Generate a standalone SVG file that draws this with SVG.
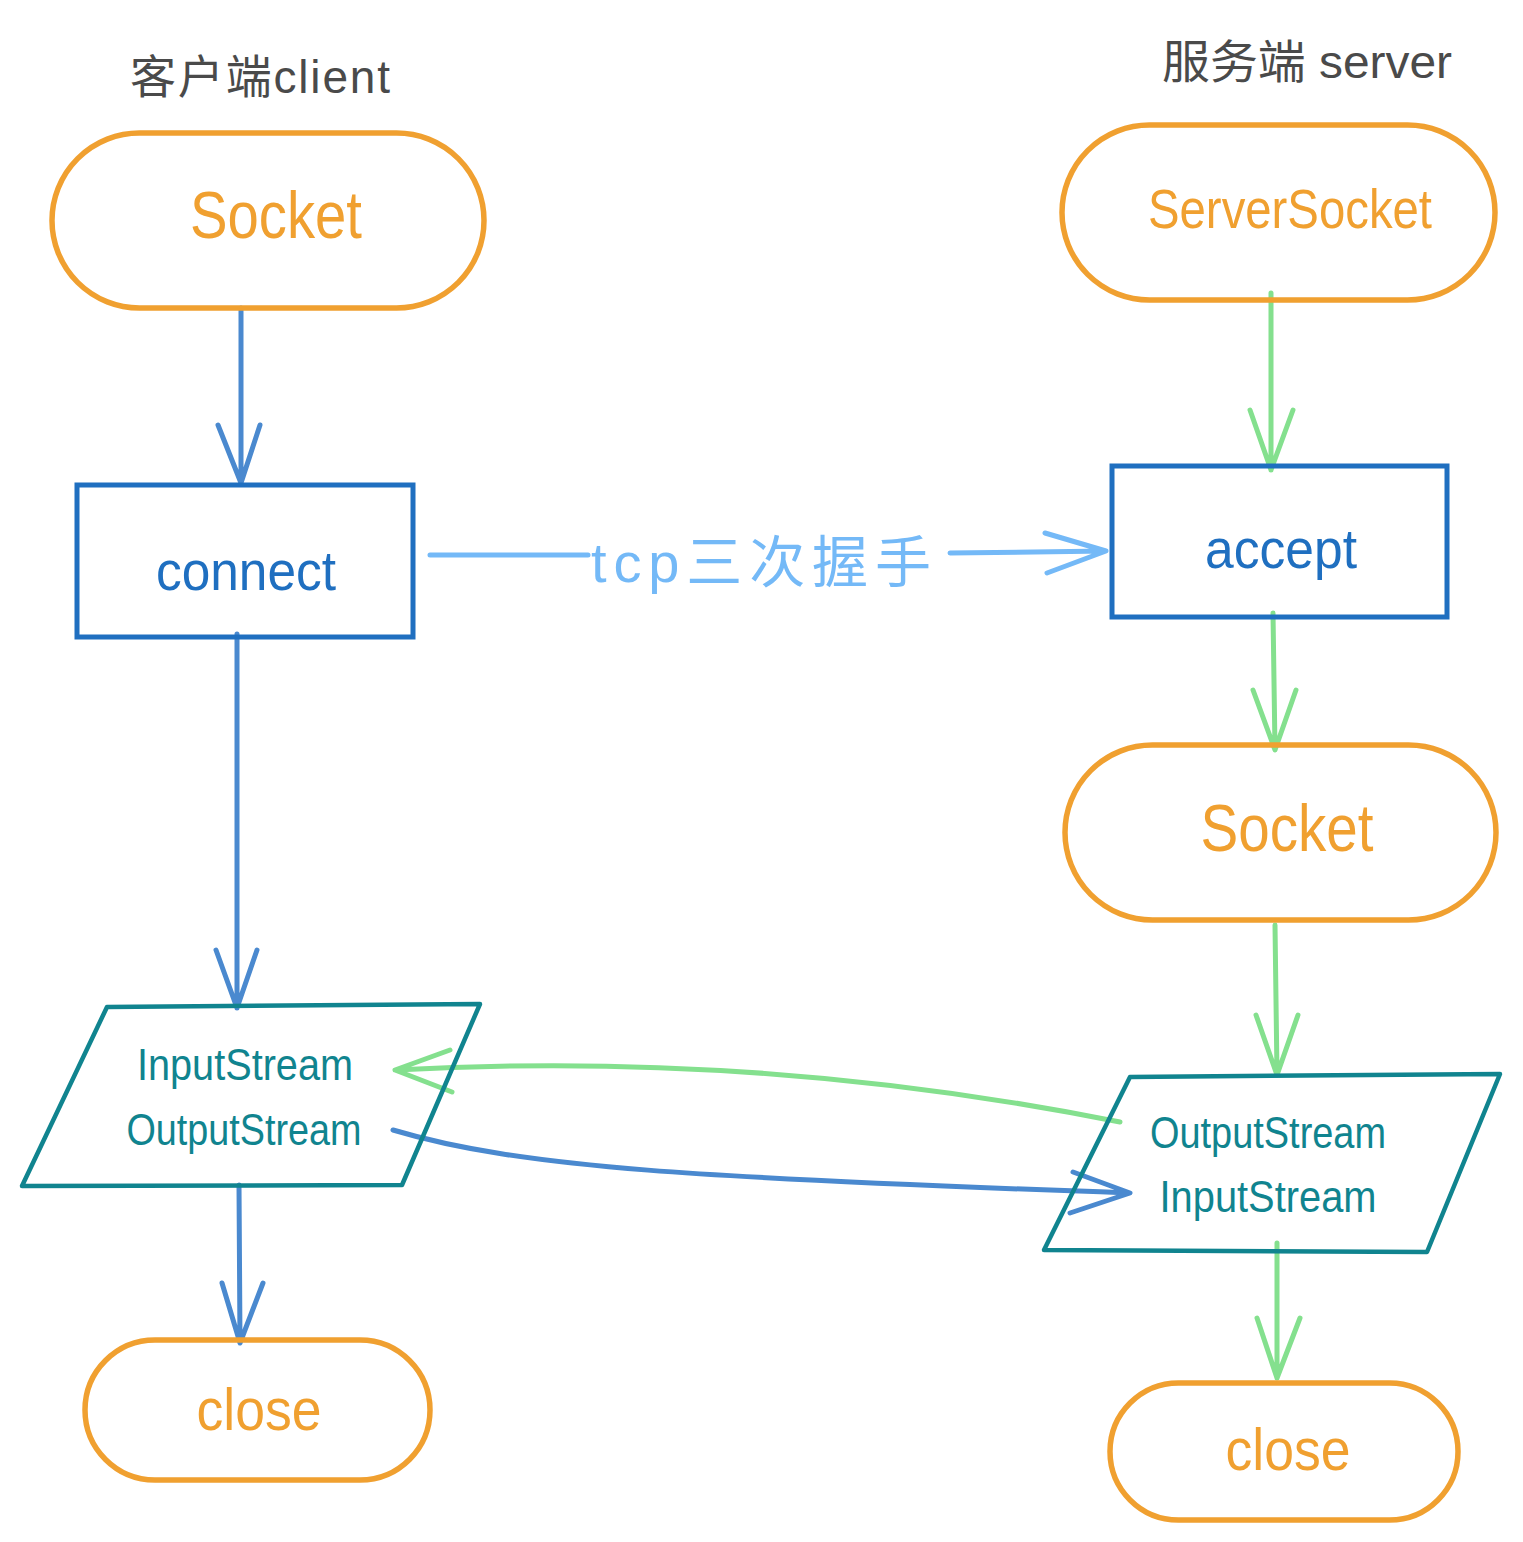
<svg xmlns="http://www.w3.org/2000/svg" width="1523" height="1542" viewBox="0 0 1523 1542">
<style>
.term{fill:none;stroke:#F0A030;stroke-width:5.5}
.proc{fill:none;stroke:#1F6FC0;stroke-width:5}
.io{fill:none;stroke:#10848F;stroke-width:4.5;stroke-linejoin:round}
.c{fill:none;stroke-width:5;stroke-linecap:round;stroke-linejoin:round}
.blue{stroke:#4A89CF}
.green{stroke:#84E08E}
.light{stroke:#74B9F7}
text{font-family:"Liberation Sans","Noto Sans CJK SC",sans-serif;text-anchor:middle}
.tOr{fill:#F0A030}
.tBl{fill:#1F6FC0}
.tTe{fill:#10848F}
.tGr{fill:#4A4A4A}
</style>
<rect width="1523" height="1542" fill="#ffffff"/>
<text class="tGr" x="260" y="93" font-size="46" textLength="260" lengthAdjust="spacing">客户端client</text>
<text class="tGr" x="1307" y="78" font-size="46" textLength="290" lengthAdjust="spacingAndGlyphs">服务端 server</text>
<g id="connectors">
<path class="c blue" d="M241,308 L241,483 M218,425 L241,483 L260,425"/>
<path class="c blue" d="M237,634 L237,1008 M216,950 L237,1008 L257,950"/>
<path class="c blue" d="M239,1185 L240,1343 M222,1283 L240,1343 L263,1283"/>
<path class="c green" d="M1271,293 L1271,470 M1250,410 L1271,470 L1293,410"/>
<path class="c green" d="M1273,613 L1275,750 M1253,690 L1275,750 L1296,690"/>
<path class="c green" d="M1275,925 L1277,1075 M1256,1015 L1277,1075 L1298,1015"/>
<path class="c green" d="M1277,1243 L1277,1378 M1257,1318 L1277,1378 L1300,1318"/>
<path class="c light" d="M430,555 L588,555 M950,553 L1106,551 M1045,533 L1106,551 L1047,573"/>
<text x="761" y="582" font-size="56" fill="#74B9F7" textLength="340" lengthAdjust="spacing">tcp三次握手</text>
<path class="c green" d="M1120,1122 Q760,1050 395,1070 M450,1050 L395,1070 L452,1092"/>
<path class="c blue" d="M393,1130 C520,1168 700,1178 1130,1193 M1073,1172 L1130,1193 L1070,1213"/>
</g>
<g id="client-socket">
<rect class="term" x="52" y="133" width="432" height="175" rx="87.5"/>
<text class="tOr" x="276" y="238" font-size="66" textLength="172" lengthAdjust="spacingAndGlyphs">Socket</text>
</g>
<g id="connect">
<rect class="proc" x="77" y="485" width="336" height="152"/>
<text class="tBl" x="246" y="590" font-size="56" textLength="180" lengthAdjust="spacingAndGlyphs">connect</text>
</g>
<g id="client-streams">
<polygon class="io" points="107,1007 480,1004 402,1185 22,1186"/>
<text class="tTe" x="245" y="1080" font-size="44" textLength="216" lengthAdjust="spacingAndGlyphs">InputStream</text>
<text class="tTe" x="244" y="1145" font-size="44" textLength="235" lengthAdjust="spacingAndGlyphs">OutputStream</text>
</g>
<g id="client-close">
<rect class="term" x="85" y="1340" width="345" height="140" rx="70"/>
<text class="tOr" x="259" y="1430" font-size="60" textLength="125" lengthAdjust="spacingAndGlyphs">close</text>
</g>
<g id="server-serversocket">
<rect class="term" x="1062" y="125" width="433" height="175" rx="87.5"/>
<text class="tOr" x="1290" y="228" font-size="55" textLength="284" lengthAdjust="spacingAndGlyphs">ServerSocket</text>
</g>
<g id="accept">
<rect class="proc" x="1112" y="466" width="335" height="151"/>
<text class="tBl" x="1281" y="568" font-size="56" textLength="152" lengthAdjust="spacingAndGlyphs">accept</text>
</g>
<g id="server-socket">
<rect class="term" x="1065" y="745" width="431" height="175" rx="87.5"/>
<text class="tOr" x="1287" y="851" font-size="66" textLength="173" lengthAdjust="spacingAndGlyphs">Socket</text>
</g>
<g id="server-streams">
<polygon class="io" points="1130,1077 1500,1074 1427,1252 1044,1250"/>
<text class="tTe" x="1268" y="1148" font-size="44" textLength="236" lengthAdjust="spacingAndGlyphs">OutputStream</text>
<text class="tTe" x="1268" y="1212" font-size="44" textLength="217" lengthAdjust="spacingAndGlyphs">InputStream</text>
</g>
<g id="server-close">
<rect class="term" x="1110" y="1383" width="348" height="137" rx="68.5"/>
<text class="tOr" x="1288" y="1470" font-size="60" textLength="125" lengthAdjust="spacingAndGlyphs">close</text>
</g>
</svg>
